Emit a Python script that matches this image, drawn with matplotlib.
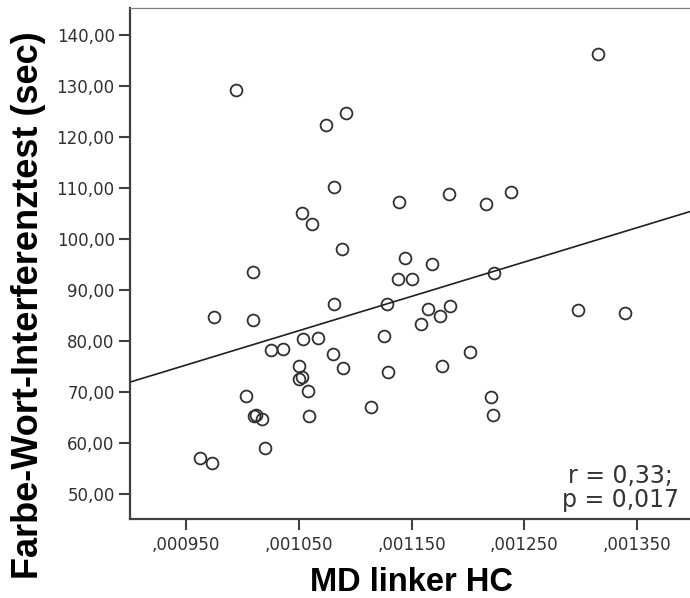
import numpy as np
import matplotlib
import matplotlib.pyplot as plt
from matplotlib.ticker import FuncFormatter

matplotlib.use('agg')

# MD linker HC (x) vs Farbe-Wort-Interferenztest (y)
md_hc = [0.000994, 0.001074, 0.001092, 0.001316, 0.001081, 0.001053, 0.001062,
         0.001139, 0.001183, 0.001216, 0.001238, 0.001088, 0.001144, 0.001168,
         0.001009, 0.001138, 0.001150, 0.001223, 0.001081, 0.001128, 0.001165,
         0.001184, 0.001175, 0.001158, 0.000975, 0.001009, 0.001298, 0.001340,
         0.001025, 0.001036, 0.001054, 0.001067, 0.001126, 0.001080, 0.001202,
         0.001050, 0.001050, 0.001053, 0.001089, 0.001129, 0.001177, 0.001058,
         0.001003, 0.001221, 0.001114, 0.001010, 0.001012, 0.001017, 0.001059,
         0.001222, 0.001020, 0.000962, 0.000973]
fwi_sec = [129.2, 122.4, 124.7, 136.3, 110.2, 105.1, 102.9,
           107.3, 108.8, 106.9, 109.2, 98.0, 96.3, 95.1,
           93.5, 92.2, 92.2, 93.3, 87.2, 87.2, 86.3,
           86.9, 84.9, 83.3, 84.7, 84.1, 86.1, 85.5,
           78.2, 78.4, 80.4, 80.6, 81.0, 77.5, 77.8,
           75.1, 72.5, 72.9, 74.7, 73.9, 75.1, 70.2,
           69.2, 69.0, 67.1, 65.3, 65.5, 64.7, 65.3,
           65.5, 59.0, 57.1, 56.1]
x_ticks = [0.00095, 0.00105, 0.00115, 0.00125, 0.00135]
y_ticks = [50, 60, 70, 80, 90, 100, 110, 120, 130, 140]
stats_text = 'r = 0,33;\np = 0,017'

x = np.array(md_hc)
y = np.array(fwi_sec)

fig = plt.figure(figsize=(6.9, 5.98), dpi=100)
ax = fig.add_axes([130/690, 79/598, 563/690, 511/598])

ax.plot(x, y, linestyle='none', marker='o', markersize=8.5,
        markerfacecolor='none', markeredgecolor='#303030', markeredgewidth=1.3)

# linear fit line
slope, icpt = np.polyfit(x, y, 1)
xl = np.array([0.0009, 0.0014])
ax.plot(xl, icpt + slope*xl, color='#202020', linewidth=1.2)

ax.set_xlim(0.0009, 0.0014)
ax.set_ylim(45.1, 145.3)
ax.set_xticks(x_ticks)
ax.set_yticks(y_ticks)
ax.xaxis.set_major_formatter(FuncFormatter(lambda v, p: ('%.6f' % v)[1:].replace('.', ',')))
ax.yaxis.set_major_formatter(FuncFormatter(lambda v, p: ('%.2f' % v).replace('.', ',')))
ax.tick_params(axis='both', direction='out', length=8, width=1.5, color='#404040',
               labelsize=12, labelcolor='#303030', pad=3)
ax.tick_params(axis='x', pad=4)

for s in ['left', 'bottom']:
    ax.spines[s].set_linewidth(1.6)
    ax.spines[s].set_color('#404040')
ax.spines['top'].set_linewidth(0.9)
ax.spines['top'].set_color('#808080')
ax.spines['right'].set_visible(False)

# r / p annotation, placed in figure pixels (origin bottom-left)
ax.text(620, 110, stats_text, transform=None, ha='center', va='center',
        fontsize=17, color='#333333', linespacing=1.0)

ax.set_xlabel('MD linker HC', fontsize=23.5, fontweight='bold',
              family='Liberation Sans')
ax.xaxis.set_label_coords(0.5, -0.093)
ax.set_ylabel('Farbe-Wort-Interferenztest (sec)', fontsize=26, fontweight='bold',
              family='Liberation Sans')
ax.yaxis.set_label_coords(-0.15, 0.419)

fig.savefig('out.png', dpi=100)
